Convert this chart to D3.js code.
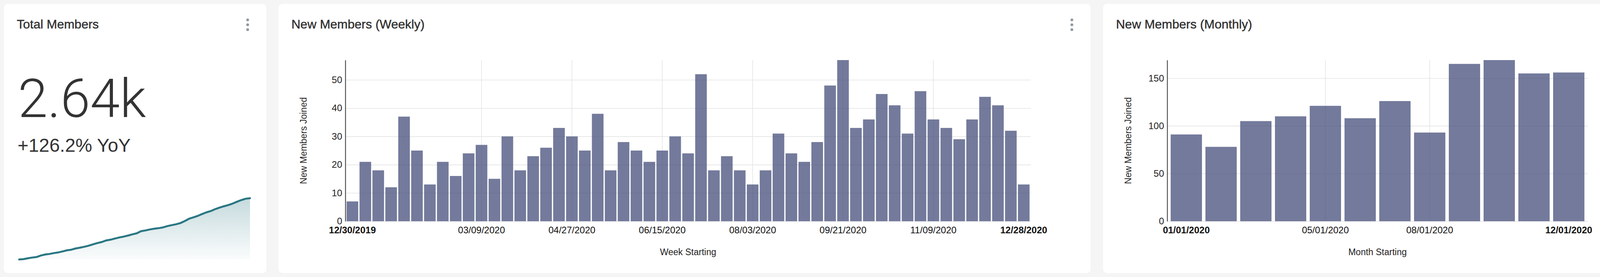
<!DOCTYPE html>
<html>
<head>
<meta charset="utf-8">
<script src="https://cdn.jsdelivr.net/npm/d3@7"></script>
<style>
  html, body { margin: 0; padding: 0; background: #f5f5f5; }
  svg { display: block; font-family: "Liberation Sans", Arial, sans-serif; }
</style>
</head>
<body>
<script>
//Weekly data (week starting, new members joined)
var weekStarts = [
  "12/30/2019", "01/06/2020", "01/13/2020", "01/20/2020", "01/27/2020", "02/03/2020",
  "02/10/2020", "02/17/2020", "02/24/2020", "03/02/2020", "03/09/2020", "03/16/2020",
  "03/23/2020", "03/30/2020", "04/06/2020", "04/13/2020", "04/20/2020", "04/27/2020",
  "05/04/2020", "05/11/2020", "05/18/2020", "05/25/2020", "06/01/2020", "06/08/2020",
  "06/15/2020", "06/22/2020", "06/29/2020", "07/06/2020", "07/13/2020", "07/20/2020",
  "07/27/2020", "08/03/2020", "08/10/2020", "08/17/2020", "08/24/2020", "08/31/2020",
  "09/07/2020", "09/14/2020", "09/21/2020", "09/28/2020", "10/05/2020", "10/12/2020",
  "10/19/2020", "10/26/2020", "11/02/2020", "11/09/2020", "11/16/2020", "11/23/2020",
  "11/30/2020", "12/07/2020", "12/14/2020", "12/21/2020", "12/28/2020"
];
var weeklyJoined = [
  7, 21, 18, 12, 37, 25, 13, 21, 16, 24, 27, 15, 30, 18, 23, 26, 33, 30, 25, 38,
  18, 28, 25, 21, 25, 30, 24, 52, 18, 23, 18, 13, 18, 31, 24, 21, 28, 48, 57, 33,
  36, 45, 41, 31, 46, 36, 33, 29, 36, 44, 41, 32, 13
];
var weeklyTicks = ["12/30/2019", "03/09/2020", "04/27/2020", "06/15/2020",
  "08/03/2020", "09/21/2020", "11/09/2020", "12/28/2020"];
var weeklyYTicks = [0, 10, 20, 30, 40, 50];

//Monthly data
var monthStarts = ["01/01/2020", "02/01/2020", "03/01/2020", "04/01/2020", "05/01/2020",
  "06/01/2020", "07/01/2020", "08/01/2020", "09/01/2020", "10/01/2020", "11/01/2020", "12/01/2020"];
var monthlyJoined = [91, 78, 105, 110, 121, 108, 126, 93, 165, 169, 155, 156];
var monthlyTicks = ["01/01/2020", "05/01/2020", "08/01/2020", "12/01/2020"];
var monthlyYTicks = [0, 50, 100, 150];

//Total members over the year (sparkline)
var totalMembers = [
  1163, 1170, 1191, 1209, 1221, 1258, 1283, 1296, 1317, 1333, 1357, 1384, 1399, 1429,
  1447, 1470, 1496, 1529, 1559, 1584, 1622, 1640, 1668, 1693, 1714, 1739, 1769, 1793,
  1845, 1863, 1886, 1904, 1917, 1935, 1966, 1990, 2011, 2039, 2087, 2144, 2177, 2213,
  2258, 2299, 2330, 2376, 2412, 2445, 2474, 2510, 2554, 2595, 2627, 2640
];
var totalLabel = "2.64k";
var yoyLabel = "+126.2% YoY";

var w = 4210;
var h = 710;
var barColor = "rgb(68,78,121)";
var lineColor = "#2a7783";

var svg = d3.select("body").append("svg").attr("width", w).attr("height", h);

var defs = svg.append("defs");
var grad = defs.append("linearGradient")
  .attr("id", "spark-fill")
  .attr("gradientUnits", "userSpaceOnUse")
  .attr("x1", 0).attr("x2", 0).attr("y1", 508).attr("y2", 665);
grad.append("stop").attr("offset", "0%").attr("stop-color", lineColor).attr("stop-opacity", 0.27);
grad.append("stop").attr("offset", "100%").attr("stop-color", lineColor).attr("stop-opacity", 0.02);

//Card with title and menu dots
function drawCard(x, width, title) {
  var g = svg.append("g").attr("transform", "translate(" + x + ",10)");
  g.append("rect")
    .attr("width", width).attr("height", 690)
    .attr("rx", 10).attr("ry", 10)
    .attr("fill", "#fff");
  g.append("text")
    .attr("x", 33).attr("y", 63)
    .attr("font-size", 32)
    .attr("fill", "#333")
    .attr("stroke", "#333")
    .attr("stroke-width", 0.6)
    .text(title);
  g.selectAll("circle.dot")
    .data([41, 53.5, 66])
    .enter()
    .append("circle")
    .attr("class", "dot")
    .attr("cx", width - 48)
    .attr("cy", function (d) { return d; })
    .attr("r", 3.6)
    .attr("fill", "#8e989f");
}

drawCard(10, 672, "Total Members");
drawCard(713, 2079, "New Members (Weekly)");
drawCard(2824, 1374, "New Members (Monthly)");

//Total members card
svg.append("text")
  .attr("x", 46).attr("y", 300)
  .attr("font-family", "Roboto, 'Liberation Sans', sans-serif")
  .attr("font-weight", 300)
  .attr("font-size", 137)
  .attr("fill", "#333")
  .text(totalLabel);

svg.append("text")
  .attr("x", 45).attr("y", 389)
  .attr("font-size", 48)
  .attr("fill", "#333")
  .text(yoyLabel);

var sx = d3.scaleLinear().domain([0, totalMembers.length - 1]).range([49, 640]);
var sy = d3.scaleLinear()
  .domain([d3.min(totalMembers), d3.max(totalMembers)])
  .range([665, 508]);

svg.append("path")
  .datum(totalMembers)
  .attr("fill", "url(#spark-fill)")
  .attr("d", d3.area()
    .x(function (d, i) { return sx(i); })
    .y0(665)
    .y1(function (d) { return sy(d); }));

svg.append("path")
  .datum(totalMembers)
  .attr("fill", "none")
  .attr("stroke", lineColor)
  .attr("stroke-width", 5)
  .attr("stroke-linecap", "round")
  .attr("stroke-linejoin", "round")
  .attr("d", d3.line()
    .x(function (d, i) { return sx(i); })
    .y(function (d) { return sy(d); }));

//Bar chart
function drawBars(cats, vals, ticks, yTicks, left, right, xTitle, yTitleX) {
  var top = 154, bottom = 567;

  var xScale = d3.scaleBand().domain(cats).range([left, right]).paddingInner(0.1).paddingOuter(0.1);
  var yScale = d3.scaleLinear().domain([0, d3.max(vals)]).range([bottom, top]);

  var g = svg.append("g");

  //horizontal grid
  g.append("g")
    .attr("transform", "translate(" + left + ",0)")
    .call(d3.axisLeft(yScale).tickValues(yTicks).tickSize(-(right - left)).tickFormat(""))
    .call(function (a) { a.select(".domain").remove(); })
    .selectAll("line")
    .attr("stroke", "#e4e4e4")
    .attr("stroke-width", 1.6);

  //vertical grid at inner ticks
  g.append("g")
    .attr("transform", "translate(0," + bottom + ")")
    .call(d3.axisBottom(xScale)
      .tickValues(ticks.slice(1, ticks.length - 1))
      .tickSize(-(bottom - top))
      .tickFormat(""))
    .call(function (a) { a.select(".domain").remove(); })
    .selectAll("line")
    .attr("stroke", "#e4e4e4")
    .attr("stroke-width", 1.6);

  //bars
  g.selectAll("rect.bar")
    .data(vals)
    .enter()
    .append("rect")
    .attr("class", "bar")
    .attr("x", function (d, i) { return xScale(cats[i]); })
    .attr("width", xScale.bandwidth())
    .attr("y", function (d) { return yScale(d); })
    .attr("height", function (d) { return yScale(0) - yScale(d); })
    .attr("fill", barColor)
    .attr("fill-opacity", 0.75);

  //y axis
  var ya = g.append("g")
    .attr("transform", "translate(" + left + ",0)")
    .call(d3.axisLeft(yScale).tickValues(yTicks).tickSize(0).tickSizeOuter(0).tickPadding(8))
    .attr("font-family", null)
    .attr("font-size", 24);
  ya.select(".domain").attr("stroke", "#333").attr("stroke-width", 2);
  ya.selectAll("text").attr("fill", "#222");

  //x axis
  var xa = g.append("g")
    .attr("transform", "translate(0," + bottom + ")")
    .call(d3.axisBottom(xScale).tickValues(ticks).tickSize(0).tickPadding(14))
    .attr("font-family", null)
    .attr("font-size", 24);
  xa.select(".domain").remove();
  xa.selectAll("text")
    .attr("fill", "#111")
    .attr("font-weight", function (d, i) {
      return i === 0 || i === ticks.length - 1 ? "bold" : "normal";
    });

  //axis titles
  g.append("text")
    .attr("x", (left + right) / 2)
    .attr("y", 654)
    .attr("text-anchor", "middle")
    .attr("font-size", 23)
    .attr("fill", "#222")
    .text(xTitle);

  g.append("text")
    .attr("transform", "translate(" + yTitleX + "," + (top + bottom) / 2 + ") rotate(-90)")
    .attr("text-anchor", "middle")
    .attr("dominant-baseline", "central")
    .attr("font-size", 23)
    .attr("fill", "#222")
    .text("New Members Joined");
}

drawBars(weekStarts, weeklyJoined, weeklyTicks, weeklyYTicks, 884, 2639, "Week Starting", 777);
drawBars(monthStarts, monthlyJoined, monthlyTicks, monthlyYTicks, 2988, 4065, "Month Starting", 2888);
</script>
</body>
</html>
